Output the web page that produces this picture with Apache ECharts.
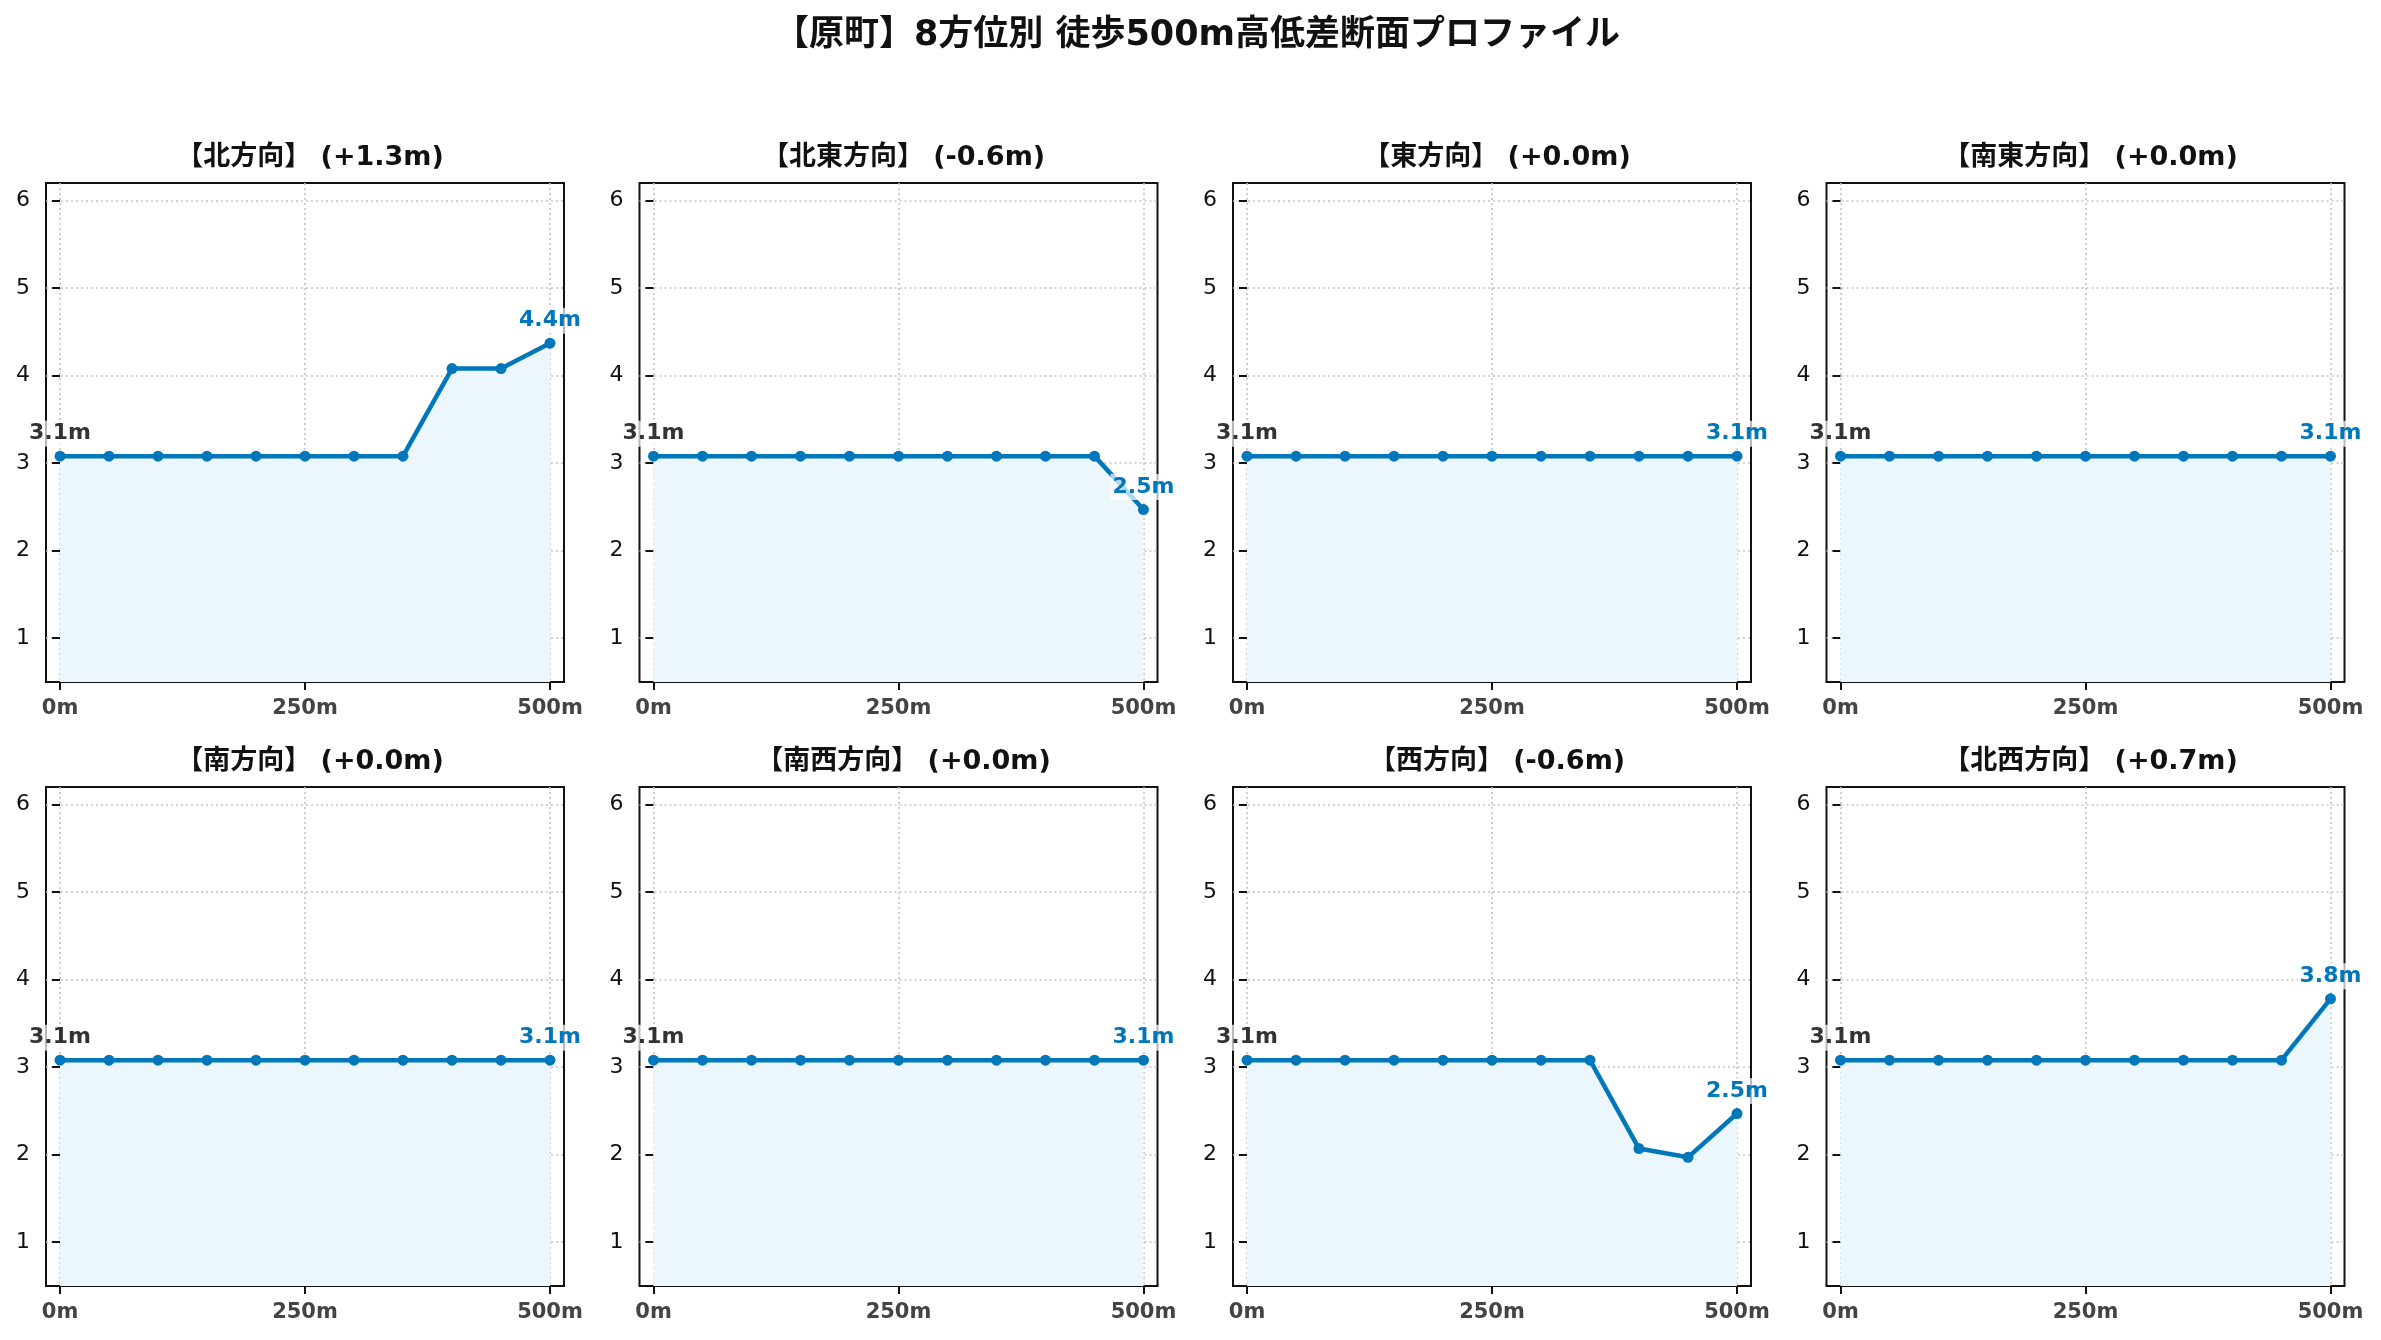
<!DOCTYPE html>
<html>
<head>
<meta charset="utf-8">
<title>原町 高低差断面プロファイル</title>
<script src="https://cdn.jsdelivr.net/npm/echarts@6/dist/echarts.min.js"></script>
<style>
	html, body { margin: 0; padding: 0; background: #fff; }
	#chart { width: 2381px; height: 1340px; }
</style>
</head>
<body>
<div id="chart"></div>
<script>
// 距離（m）
var distances = [0, 50, 100, 150, 200, 250, 300, 350, 400, 450, 500];
var directions = ['北方向', '北東方向', '東方向', '南東方向', '南方向', '南西方向', '西方向', '北西方向'];

// 標高（m）
var northElev     = [3.08, 3.08, 3.08, 3.08, 3.08, 3.08, 3.08, 3.08, 4.08, 4.08, 4.37];
var northEastElev = [3.08, 3.08, 3.08, 3.08, 3.08, 3.08, 3.08, 3.08, 3.08, 3.08, 2.47];
var eastElev      = [3.08, 3.08, 3.08, 3.08, 3.08, 3.08, 3.08, 3.08, 3.08, 3.08, 3.08];
var southEastElev = [3.08, 3.08, 3.08, 3.08, 3.08, 3.08, 3.08, 3.08, 3.08, 3.08, 3.08];
var southElev     = [3.08, 3.08, 3.08, 3.08, 3.08, 3.08, 3.08, 3.08, 3.08, 3.08, 3.08];
var southWestElev = [3.08, 3.08, 3.08, 3.08, 3.08, 3.08, 3.08, 3.08, 3.08, 3.08, 3.08];
var westElev      = [3.08, 3.08, 3.08, 3.08, 3.08, 3.08, 3.08, 3.08, 2.07, 1.97, 2.47];
var northWestElev = [3.08, 3.08, 3.08, 3.08, 3.08, 3.08, 3.08, 3.08, 3.08, 3.08, 3.78];

var elevations = [northElev, northEastElev, eastElev, southEastElev,
	southElev, southWestElev, westElev, northWestElev];

var xTicks = [0, 250, 500];
var yTicks = [1, 2, 3, 4, 5, 6];

window.onload = function () {
	var chart = echarts.init(document.getElementById('chart'));

	var FONT = '"DejaVu Sans", "Noto Sans CJK JP", sans-serif';
	var BLUE = '#0077bb';
	var colLeft = [46, 639.5, 1233, 1826.5];
	var rowTop = [183, 787];
	var W = 518, H = 499;

	var grids = [], xAxes = [], yAxes = [], titles = [], series = [];

	titles.push({
		text: '【原町】8方位別 徒歩500m高低差断面プロファイル',
		left: 1192,
		top: 13,
		textAlign: 'center',
		textStyle: { fontFamily: FONT, fontSize: 35, fontWeight: 'bold', color: '#111' }
	});

	for (var i = 0; i < directions.length; i++) {
		var left = colLeft[i % 4];
		var top = rowTop[Math.floor(i / 4)];
		var vals = elevations[i];
		var diff = vals[vals.length - 1] - vals[0];
		var diffTxt = (diff >= 0 ? '+' : '') + diff.toFixed(1);

		titles.push({
			text: '【' + directions[i] + '】 (' + diffTxt + 'm)',
			left: left + W / 2,
			top: top - 44,
			textAlign: 'center',
			textStyle: { fontFamily: FONT, fontSize: 27, fontWeight: 'bold', color: '#111' }
		});

		grids.push({
			left: left, top: top, width: W, height: H,
			show: true,
			borderColor: '#111',
			borderWidth: 2,
			backgroundColor: 'transparent'
		});

		xAxes.push({
			gridIndex: i,
			type: 'value',
			min: -14.3,
			max: 514.3,
			axisLine: { show: false },
			axisTick: {
				show: true, inside: false, length: 8,
				customValues: xTicks,
				lineStyle: { color: '#111', width: 2 }
			},
			axisLabel: {
				customValues: xTicks,
				margin: 16,
				fontFamily: FONT, fontSize: 21, fontWeight: 'bold', color: '#444',
				formatter: function (v) { return v + 'm'; }
			},
			splitLine: { show: true, lineStyle: { color: '#c4c4c4', type: [2, 3], width: 1.6 } }
		});

		yAxes.push({
			gridIndex: i,
			type: 'value',
			min: 0.5,
			max: 6.2,
			axisLine: { show: false },
			axisTick: {
				show: true, inside: false, length: 8,
				customValues: yTicks,
				lineStyle: { color: '#111', width: 2 }
			},
			axisLabel: {
				customValues: yTicks,
				margin: 16,
				fontFamily: FONT, fontSize: 22, color: '#111'
			},
			splitLine: { show: true, lineStyle: { color: '#c4c4c4', type: [2, 3], width: 1.6 } }
		});

		var data = [];
		for (var j = 0; j < distances.length; j++) {
			var item = { value: [distances[j], vals[j]] };
			if (j == 0 || j == distances.length - 1) {
				item.label = {
					show: true,
					position: 'top',
					distance: 4,
					formatter: vals[j].toFixed(1) + 'm',
					fontFamily: FONT,
					fontSize: 22,
					fontWeight: 'bold',
					color: j == 0 ? '#333' : BLUE,
					backgroundColor: 'rgba(255,255,255,0.7)',
					padding: [2, 2]
				};
			}
			data.push(item);
		}

		series.push({
			type: 'line',
			xAxisIndex: i,
			yAxisIndex: i,
			data: data,
			symbol: 'circle',
			symbolSize: 11,
			lineStyle: { color: BLUE, width: 4.5 },
			itemStyle: { color: BLUE },
			areaStyle: { color: '#ebf7fd', opacity: 1, origin: 'start' },
			label: { show: false },
			animation: false,
			z: 3
		});
	}

	var option = {
		backgroundColor: '#fff',
		title: titles,
		grid: grids,
		xAxis: xAxes,
		yAxis: yAxes,
		series: series
	};
	chart.setOption(option);
};
</script>
</body>
</html>
